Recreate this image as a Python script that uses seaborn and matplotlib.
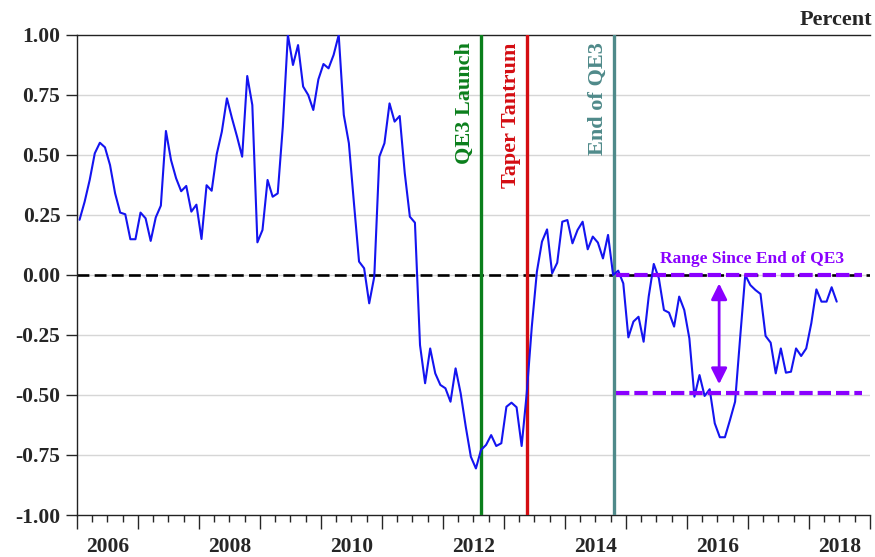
import numpy as np
import pandas as pd
import matplotlib
matplotlib.use('Agg')
import matplotlib.pyplot as plt
import seaborn as sns

sns.set_style('white')
plt.rcParams['font.family'] = ['Liberation Serif', 'DejaVu Serif']
plt.rcParams['font.weight'] = 'bold'
plt.rcParams['axes.unicode_minus'] = False

# monthly series, Jan 2006 - Jun 2018 (percent)
start_year = 2006
values = [
    0.23, 0.305, 0.396, 0.507, 0.551, 0.532, 0.458, 0.34, 0.26, 0.253, 0.149, 0.149,
    0.26, 0.236, 0.142, 0.24, 0.289, 0.60, 0.479, 0.403, 0.349, 0.371, 0.264, 0.293,
    0.15, 0.374, 0.351, 0.504, 0.597, 0.736, 0.653, 0.576, 0.493, 0.829, 0.708, 0.136,
    0.1875, 0.396, 0.326, 0.34, 0.618, 1.0, 0.875, 0.958, 0.785, 0.75, 0.6875, 0.815,
    0.879, 0.861, 0.917, 1.0, 0.667, 0.549, 0.299, 0.056, 0.028, -0.118, -0.007, 0.493,
    0.549, 0.715, 0.639, 0.6625, 0.424, 0.243, 0.218, -0.292, -0.451, -0.306, -0.41, -0.458,
    -0.472, -0.528, -0.389, -0.493, -0.632, -0.757, -0.806, -0.729, -0.708, -0.667, -0.7125, -0.701,
    -0.549, -0.532, -0.551, -0.7125, -0.493, -0.215, 0.014, 0.139, 0.19, 0.007, 0.051, 0.222,
    0.229, 0.132, 0.1875, 0.222, 0.107, 0.16, 0.135, 0.069, 0.167, 0.0, 0.018, -0.035,
    -0.26, -0.194, -0.174, -0.278, -0.09, 0.046, -0.014, -0.146, -0.157, -0.215, -0.09, -0.146,
    -0.264, -0.507, -0.417, -0.504, -0.476, -0.618, -0.676, -0.676, -0.604, -0.528, -0.26, 0.0,
    -0.042, -0.0625, -0.079, -0.254, -0.282, -0.41, -0.306, -0.407, -0.403, -0.306, -0.3375, -0.306,
    -0.201, -0.06, -0.111, -0.111, -0.051, -0.111,
]

# events (decimal years)
event_names = ['QE3 Launch', 'Taper Tantrum', 'End of QE3']
event_dates = [2012.62, 2013.375, 2014.81]
event_colors = ['#0b7f1c', '#d40d12', '#4f8a8a']

range_top = 0.0
range_bottom = -0.49
purple = '#8a00ff'

df = pd.DataFrame({'month': np.arange(len(values)), 'value': values})
df['year'] = start_year + (df['month'] + 0.5) / 12

fig = plt.figure(figsize=(8.75, 5.57), dpi=100)
ax = fig.add_axes([0.088, 0.0754, 0.906, 0.8618])

for y in np.arange(-0.75, 1.0, 0.25):
    ax.axhline(y, color='#d6d6d6', lw=1.0, zorder=0)

ax.axhline(0, color='black', lw=1.9, dashes=(4.5, 2.0), zorder=2)

sns.lineplot(data=df, x='year', y='value', color='#1414f0', lw=1.5, ax=ax, zorder=4)

for name, d, c in zip(event_names, event_dates, event_colors):
    ax.axvline(d, color=c, lw=2.4, zorder=3)
    ax.text(d - 0.1, 0.985, name, transform=ax.get_xaxis_transform(), rotation=90,
            ha='right', va='top', color=c, fontsize=16, fontweight='bold')

# range since end of QE3
ax.plot([2014.84, 2018.88], [range_top, range_top], color=purple, lw=3.0,
        dashes=(3.2, 1.2), zorder=5)
ax.plot([2014.84, 2018.88], [range_bottom, range_bottom], color=purple, lw=3.0,
        dashes=(3.2, 1.2), zorder=5)
ax.annotate('', xy=(2016.53, -0.035), xytext=(2016.53, -0.455),
            arrowprops=dict(arrowstyle='<|-|>', color=purple, lw=2.0,
                            mutation_scale=24, shrinkA=0, shrinkB=0), zorder=5)
ax.text(2017.07, 0.035, 'Range Since End of QE3', color=purple, fontsize=12.5,
        fontweight='bold', ha='center', va='bottom')

ax.set_xlim(2006, 2019)
ax.set_ylim(-1.0, 1.0)
ax.set_yticks(np.arange(-1.0, 1.01, 0.25))
ax.set_yticklabels([f'{v:.2f}' for v in np.arange(-1.0, 1.01, 0.25)], fontsize=15.5,
                   fontweight='bold')
ax.set_xticks(np.arange(2006, 2020))
ax.set_xticklabels([])
ax.set_xticks(np.arange(2006, 2019.01, 0.25), minor=True)
ax.tick_params(axis='x', which='major', length=10, width=1.0, direction='out', bottom=True)
ax.tick_params(axis='x', which='minor', length=5, width=1.0, direction='out', bottom=True)
ax.tick_params(axis='y', length=8, width=1.0, direction='out', left=True, pad=4)
for yr in range(2006, 2019, 2):
    ax.text(yr + 0.5, -0.046, str(yr), transform=ax.get_xaxis_transform(),
            ha='center', va='top', fontsize=15.5, fontweight='bold')

ax.set_xlabel('')
ax.set_ylabel('')
for side in ['left', 'top', 'bottom']:
    ax.spines[side].set_color('#222222')
    ax.spines[side].set_linewidth(1.0)
ax.spines['right'].set_visible(False)

fig.text(0.997, 0.982, 'Percent', ha='right', va='top', fontsize=16, fontweight='bold')

fig.savefig('out.png', dpi=100)
